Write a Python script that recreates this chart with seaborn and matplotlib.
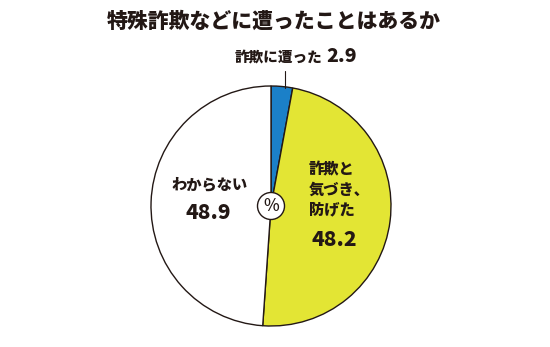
import matplotlib
matplotlib.use("Agg")
import matplotlib.pyplot as plt
import seaborn as sns

sns.set_theme(style="white")
plt.rcParams['font.family'] = ['Noto Sans CJK JP', 'DejaVu Sans']

title = "特殊詐欺などに遭ったことはあるか"
categories = ["詐欺に遭った", "詐欺と気づき、防げた", "わからない"]
values = [2.9, 48.2, 48.9]
colors = ["#1b80c8", "#e3e534", "#ffffff"]
TXT = "#231815"
W8 = "heavy"

W, H = 550, 347
fig = plt.figure(figsize=(W / 100, H / 100), dpi=100)
fig.patch.set_facecolor("white")

cx, cy, r = 271, 206, 120
ax = fig.add_axes([(cx - r) / W, (H - cy - r) / H, 2 * r / W, 2 * r / H])
ax.pie(values, colors=colors, startangle=90, counterclock=False, radius=1,
       wedgeprops=dict(edgecolor=TXT, linewidth=1.0))
ax.set_xlim(-1, 1)
ax.set_ylim(-1, 1)
ax.set_aspect("equal")
ax.axis("off")

# center % circle
circ = plt.Circle((0, 0), 13.5 / r, facecolor="white", edgecolor=TXT, lw=1.0, zorder=5)
ax.add_patch(circ)
ax.text(0, 0, "%", ha="center", va="center", fontsize=12, color=TXT, zorder=6,
        fontweight="medium")

def fx(x):
    return x / W

def fy(y):
    return 1 - y / H

fig.text(fx(274), fy(22), title, ha="center", va="center", fontsize=15,
         fontweight=W8, color=TXT)

# small slice label
fig.text(fx(322), fy(58), categories[0], ha="right", va="center", fontsize=10.5,
         fontweight=W8, color=TXT)
fig.text(fx(326), fy(57), f"{values[0]:.1f}", ha="left", va="center", fontsize=14,
         fontweight=W8, color=TXT)
fig.add_artist(plt.Line2D([fx(285), fx(285)], [fy(71), fy(88)], color=TXT, lw=0.8))

# yellow label
for i, line in enumerate(["詐欺と", "気づき、", "防げた"]):
    fig.text(fx(309), fy(170 + 20 * i), line, ha="left", va="center", fontsize=11,
             fontweight=W8, color=TXT)
fig.text(fx(334), fy(240), f"{values[1]:.1f}", ha="center", va="center", fontsize=15,
         fontweight=W8, color=TXT)

# white label
fig.text(fx(210), fy(185), categories[2], ha="center", va="center", fontsize=11,
         fontweight=W8, color=TXT)
fig.text(fx(208), fy(213), f"{values[2]:.1f}", ha="center", va="center", fontsize=15,
         fontweight=W8, color=TXT)

fig.savefig("out.png", dpi=100, facecolor="white")
